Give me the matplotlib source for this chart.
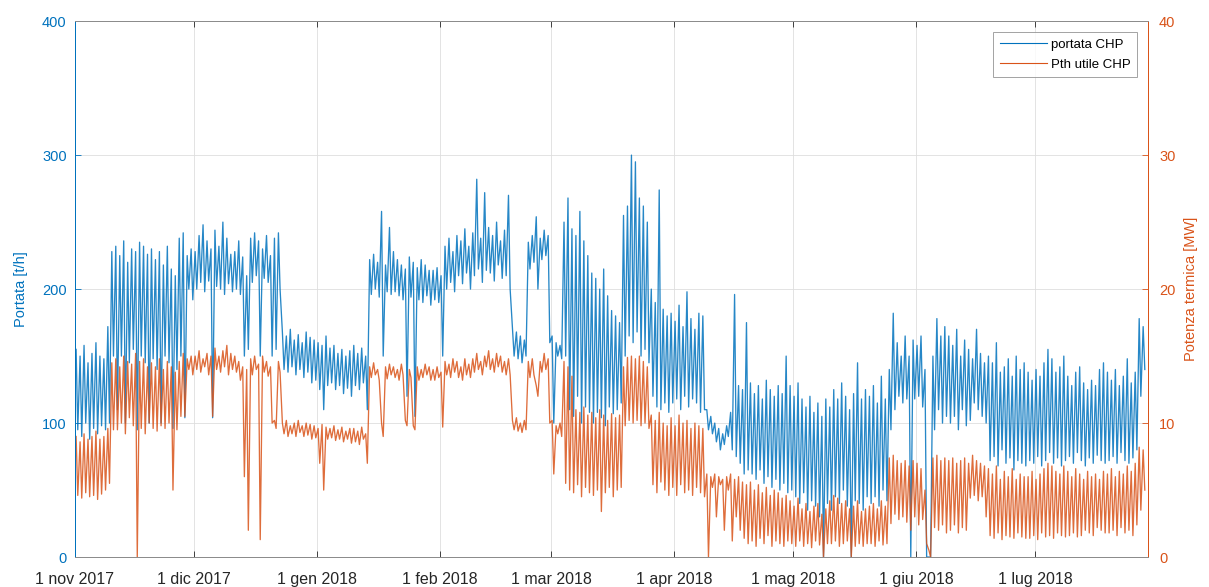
import numpy as np
import matplotlib
matplotlib.use("Agg")
import matplotlib.pyplot as plt
import matplotlib.dates as mdates

plt.rcParams['font.family'] = ['Liberation Sans', 'DejaVu Sans']

# valori giornalieri: massimo e minimo di ogni giorno, dal 1 nov 2017
portata_max = [
    155, 150, 158, 145, 152, 160, 150, 148, 172, 228,
    232, 225, 236, 220, 230, 228, 235, 232, 226, 230,
    222, 228, 218, 232, 215, 210, 238, 242, 225, 230,
    228, 240, 248, 236, 230, 244, 232, 250, 238, 226,
    228, 236, 224, 210, 238, 242, 236, 230, 240, 225,
    238, 242, 168, 165, 170, 162, 166, 160, 168, 164,
    162, 160, 158, 165, 156, 158, 152, 155, 150, 154,
    158, 152, 156, 150, 222, 226, 220, 258, 218, 246,
    228, 222, 218, 215, 224, 220, 216, 222, 218, 214,
    214, 216, 210, 232, 238, 228, 240, 236, 245, 232,
    242, 282, 238, 272, 246, 240, 250, 236, 244, 270,
    170, 168, 165, 162, 235, 240, 254, 238, 244, 240,
    165, 160, 158, 250, 268, 245, 240, 258, 236, 225,
    212, 208, 200, 215, 195, 184, 180, 175, 255, 262,
    300, 295, 268, 262, 250, 200, 190, 274, 185, 180,
    182, 176, 188, 172, 198, 178, 170, 182, 180, 110,
    105, 100, 96, 92, 98, 108, 196, 128, 125, 175,
    130, 122, 128, 118, 132, 125, 120, 128, 122, 150,
    128, 120, 130, 118, 112, 120, 108, 115, 105, 118,
    112, 125, 118, 130, 120, 110, 122, 145, 118, 125,
    120, 128, 115, 135, 118, 140, 182, 160, 150, 165,
    150, 162, 158, 165, 140, 0, 150, 178, 165, 172,
    165, 158, 170, 150, 162, 155, 148, 170, 152, 145,
    150, 145, 160, 138, 142, 148, 135, 150, 140, 145,
    138, 132, 140, 135, 145, 155, 148, 138, 142, 150,
    135, 128, 138, 142, 130, 125, 132, 128, 140, 145,
    138, 132, 140, 128, 135, 148, 130, 138, 178, 172,
]
portata_min = [
    95, 90, 100, 88, 96, 92, 98, 95, 100, 150,
    110, 150, 100, 145, 155, 95, 150, 145, 100, 148,
    140, 100, 150, 145, 96, 140, 150, 104, 200, 192,
    200, 205, 198, 206, 104, 202, 200, 196, 204, 198,
    200, 196, 150, 155, 205, 210, 150, 208, 205, 150,
    155, 200, 140, 138, 142, 136, 140, 134, 138, 130,
    132, 125, 110, 128, 130, 125, 128, 122, 126, 120,
    128, 125, 130, 110, 196, 200, 194, 150, 198, 196,
    198, 195, 192, 120, 194, 105, 192, 190, 195, 188,
    192, 190, 150, 200, 205, 198, 210, 204, 212, 200,
    210, 215, 205, 214, 212, 206, 218, 208, 210, 200,
    150, 148, 145, 150, 215, 220, 200, 222, 225, 160,
    100, 150, 148, 150, 110, 105, 120, 100, 112, 108,
    100, 108, 104, 98, 112, 107, 110, 115, 150, 165,
    160, 168, 150, 155, 145, 120, 112, 110, 115, 108,
    115, 118, 110, 120, 112, 118, 115, 108, 110, 95,
    92, 86, 80, 84, 90, 80, 75, 70, 62, 65,
    62, 58, 65, 55, 60, 52, 58, 50, 55, 48,
    50, 45, 40, 48, 35, 42, 38, 30, 0, 40,
    35, 45, 40, 50, 38, 0, 42, 40, 35, 45,
    40, 45, 38, 50, 42, 95, 110, 120, 115, 118,
    0, 118, 120, 112, 0, 0, 95, 110, 100, 105,
    100, 105, 95, 110, 98, 102, 115, 110, 105, 100,
    72, 75, 68, 80, 70, 74, 65, 72, 70, 68,
    72, 70, 75, 68, 72, 78, 70, 74, 68, 72,
    75, 70, 78, 72, 68, 74, 70, 76, 72, 70,
    72, 75, 70, 78, 72, 70, 74, 80, 120, 140,
]
pth_max = [
    9.0, 8.6, 9.2, 8.8, 9.0, 9.4, 8.8, 9.0, 9.6, 14.5,
    14.8, 14.2, 15.0, 14.6, 14.4, 15.2, 14.6, 14.8, 14.2, 14.5,
    14.2, 14.8, 14.0, 14.6, 14.2, 13.8, 14.6, 15.2, 14.8, 15.0,
    15.0, 15.4, 14.8, 15.2, 15.0, 15.6, 15.0, 15.4, 15.8, 15.2,
    15.0, 14.6, 14.2, 14.0, 14.8, 15.0, 14.4, 15.0, 14.6, 14.2,
    10.2, 14.6, 10.0, 10.2, 9.8, 10.0, 10.2, 9.8, 10.0, 9.9,
    9.8, 9.6, 9.9, 9.7, 9.6, 9.8, 9.5, 9.7, 9.4, 9.6,
    9.6, 9.4, 9.7, 9.2, 14.2, 14.5, 14.0, 10.0, 14.2, 14.4,
    14.2, 14.0, 14.4, 10.2, 14.0, 9.8, 14.2, 14.0, 14.4, 14.2,
    14.0, 14.2, 13.8, 14.6, 14.4, 14.8, 14.6, 14.2, 14.8, 14.4,
    14.8, 15.2, 14.6, 15.0, 15.4, 14.8, 15.2, 15.0, 14.6, 14.8,
    10.2, 10.4, 10.0, 10.2, 14.6, 14.8, 12.8, 14.6, 15.2, 14.8,
    10.2, 9.8, 10.0, 14.6, 14.2, 13.5, 11.0, 10.8, 11.2, 10.6,
    10.8, 10.4, 11.0, 10.6, 10.2, 10.7, 10.4, 10.6, 14.2, 14.9,
    15.0, 14.8, 15.0, 14.6, 14.2, 10.6, 10.2, 10.8, 10.0, 9.8,
    10.4, 9.8, 10.6, 10.0, 10.2, 9.6, 10.0, 9.8, 9.6, 6.2,
    6.0, 6.2, 6.0, 5.8, 6.0, 6.2, 5.8, 6.0, 5.6, 5.4,
    5.6, 5.0, 5.4, 4.8, 5.2, 4.6, 5.0, 4.8, 4.4, 4.6,
    4.2, 3.8, 4.4, 3.6, 4.0, 3.4, 3.8, 4.0, 3.2, 3.6,
    4.2, 4.6, 4.4, 4.0, 4.2, 3.6, 3.8, 4.2, 3.4, 3.6,
    3.8, 4.0, 3.6, 4.2, 3.8, 7.4, 7.6, 7.2, 7.0, 7.2,
    6.8, 7.2, 7.0, 6.6, 5.0, 0.5, 7.4, 7.6, 7.2, 7.4,
    7.2, 7.4, 7.0, 7.2, 7.4, 7.0, 7.6, 7.2, 7.0, 6.8,
    6.6, 6.2, 6.8, 5.8, 6.4, 6.0, 6.6, 5.8, 6.2, 6.0,
    6.0, 6.4, 5.8, 6.2, 6.6, 7.0, 6.8, 6.4, 6.2, 6.8,
    6.4, 6.0, 6.6, 6.2, 5.8, 6.4, 6.0, 6.2, 5.8, 6.4,
    6.2, 6.6, 6.0, 6.4, 6.2, 6.8, 6.4, 7.0, 8.2, 8.0,
]
pth_min = [
    4.6, 4.4, 4.8, 4.5, 4.6, 4.3, 4.7, 5.0, 5.5, 9.5,
    9.5, 10.0, 9.2, 10.4, 9.8, 0.0, 9.6, 9.2, 10.0, 9.6,
    9.4, 9.8, 9.6, 10.0, 5.0, 9.5, 10.5, 10.5, 14.0, 13.6,
    14.0, 13.8, 14.2, 13.6, 10.5, 14.0, 13.8, 14.2, 13.6, 14.0,
    13.8, 13.2, 6.0, 2.0, 13.6, 14.0, 1.3, 13.8, 13.5, 10.0,
    9.6, 13.8, 9.2, 9.0, 9.2, 9.0, 9.3, 9.0, 9.1, 8.8,
    8.9, 7.0, 5.0, 8.8, 8.9, 8.7, 8.8, 8.6, 8.8, 8.5,
    8.6, 8.4, 8.8, 7.0, 13.4, 13.6, 13.2, 9.0, 13.3, 13.6,
    13.4, 13.2, 13.6, 9.8, 13.4, 9.5, 13.2, 13.4, 13.6, 13.2,
    13.2, 13.4, 9.7, 13.6, 13.4, 13.8, 13.4, 13.2, 13.6, 13.4,
    13.8, 14.0, 13.6, 14.2, 14.0, 13.8, 14.2, 13.8, 13.6, 13.6,
    9.5, 9.4, 9.3, 9.5, 13.4, 13.6, 12.0, 13.8, 14.0, 10.0,
    6.2, 9.2, 9.0, 5.5, 5.0, 4.8, 5.4, 4.5, 5.2, 4.8,
    4.6, 5.0, 3.4, 4.8, 5.2, 4.5, 5.0, 5.2, 9.8, 10.2,
    10.0, 10.2, 9.8, 10.0, 9.6, 5.4, 4.8, 5.6, 5.0, 4.6,
    5.2, 4.6, 5.4, 4.8, 5.0, 4.6, 5.2, 4.8, 4.5, 0.0,
    5.2, 3.0, 5.4, 2.0, 5.0, 1.2, 3.0, 2.0, 1.4, 1.0,
    1.2, 0.8, 1.4, 1.0, 1.6, 0.8, 1.2, 1.0, 0.8, 1.2,
    1.0, 0.8, 1.2, 0.8, 1.0, 0.7, 1.2, 0.9, 0.0, 1.0,
    1.0, 1.2, 0.8, 1.0, 1.2, 0.0, 0.8, 1.0, 0.8, 1.0,
    1.0, 0.8, 1.2, 0.9, 1.0, 2.5, 3.2, 2.8, 3.0, 2.6,
    2.0, 3.0, 2.4, 2.8, 1.0, 0.0, 2.2, 2.0, 2.4, 1.8,
    2.0, 2.4, 1.8, 2.2, 2.0, 4.4, 4.6, 4.2, 4.5, 3.0,
    1.6, 1.4, 1.8, 1.3, 1.6, 1.5, 1.4, 1.8, 1.5, 1.4,
    1.4, 1.6, 1.3, 1.8, 1.5, 1.6, 1.4, 1.8, 1.6, 1.5,
    1.6, 1.8, 1.5, 1.6, 2.0, 1.8, 1.6, 2.2, 2.0, 1.8,
    1.8, 2.0, 1.6, 2.2, 1.8, 2.0, 1.6, 2.4, 3.5, 5.0,
]

mesi = ['1 nov 2017', '1 dic 2017', '1 gen 2018', '1 feb 2018', '1 mar 2018',
        '1 apr 2018', '1 mag 2018', '1 giu 2018', '1 lug 2018']

blu = '#0072BD'
arancio = '#D95319'

# ogni giorno: massimo alle 7, minimo alle 17
giorni = np.datetime64('2017-11-01T00:00') + np.arange(len(portata_max)) * np.timedelta64(24, 'h')
t = np.empty(2 * len(giorni), dtype='datetime64[m]')
t[0::2] = giorni + np.timedelta64(7, 'h')
t[1::2] = giorni + np.timedelta64(17, 'h')
portata = np.empty(len(t))
portata[0::2] = portata_max
portata[1::2] = portata_min
pth = np.empty(len(t))
pth[0::2] = pth_max
pth[1::2] = pth_min

fig = plt.figure(figsize=(12.09, 5.87), dpi=100)
ax = fig.add_axes([0.062, 0.051, 0.8875, 0.913])
ax2 = ax.twinx()

l1, = ax.plot(t, portata, color=blu, lw=0.95, alpha=0.85, label='portata CHP')
l2, = ax2.plot(t, pth, color=arancio, lw=0.95, alpha=0.85, label='Pth utile CHP')

ax.set_xlim(np.datetime64('2017-11-01'), np.datetime64('2018-07-29T12:00'))
ax.set_ylim(0, 400)
ax2.set_ylim(0, 40)
ax.set_yticks([0, 100, 200, 300, 400])
ax2.set_yticks([0, 10, 20, 30, 40])

ax.xaxis.set_major_locator(mdates.MonthLocator())
ax.set_xticks(ax.get_xticks()[:len(mesi)])
ax.set_xticklabels(mesi)

ax.grid(True, color='#dedede', lw=0.6)
ax.set_axisbelow(True)

ax.set_ylabel('Portata [t/h]', color=blu, fontsize=10.5, labelpad=10)
ax2.set_ylabel('Potenza termica [MW]', color=arancio, fontsize=10.5, labelpad=6)

for a in (ax, ax2):
    a.tick_params(direction='in', length=4, labelsize=10.5, width=0.6)
ax.tick_params(axis='y', colors=blu, pad=6)
ax2.tick_params(axis='y', colors=arancio, pad=8)
ax.tick_params(axis='x', colors='#262626', top=True, labelsize=11.5, pad=11)
ax.spines['left'].set_color(blu)
ax2.spines['left'].set_color(blu)
ax2.spines['right'].set_color(arancio)
ax.spines['right'].set_color(arancio)
for a in (ax, ax2):
    a.spines['top'].set_color('#8c8c8c')
    a.spines['bottom'].set_color('#8c8c8c')
    for s in a.spines.values():
        s.set_linewidth(0.7)

leg = ax2.legend([l1, l2], ['portata CHP', 'Pth utile CHP'], loc='upper right',
                 fontsize=9.5, frameon=True, fancybox=False, handlelength=3.6,
                 handletextpad=0.3, borderaxespad=0.8, borderpad=0.5, labelspacing=0.6)
leg.get_frame().set_edgecolor('#8c8c8c')
leg.get_frame().set_linewidth(0.7)
for h in leg.get_lines():
    h.set_linewidth(0.8)
    h.set_alpha(1)

fig.savefig('out.png', dpi=100)
